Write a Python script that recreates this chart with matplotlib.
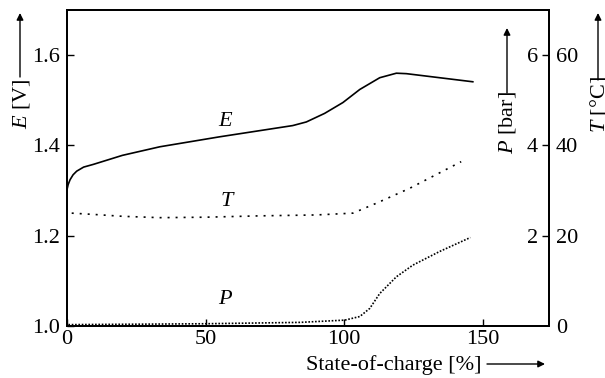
import matplotlib
matplotlib.use("Agg")
import matplotlib.pyplot as plt

plt.rcParams['font.family'] = ['Liberation Serif', 'DejaVu Serif']
plt.rcParams['mathtext.fontset'] = 'custom'
plt.rcParams['mathtext.rm'] = 'Liberation Serif'
plt.rcParams['mathtext.it'] = 'Liberation Serif:italic'

# cell voltage E [V] vs state of charge [%]
soc_E = [0, 0.4, 1.1, 2.2, 3.5, 6, 9.5, 20, 33.5, 55, 81.5, 86.4, 93, 99.6, 105.7, 112.9, 118.9, 122.5, 146.5]
E = [1.302, 1.313, 1.324, 1.335, 1.343, 1.352, 1.358, 1.378, 1.397, 1.419, 1.444, 1.452, 1.471, 1.495, 1.524, 1.550, 1.560, 1.559, 1.541]

# temperature T [degC]
soc_T = [1.7, 10, 20, 33.5, 50, 69.6, 90, 103.2, 111.7, 123.7, 142.3]
T = [25.0, 24.7, 24.3, 24.0, 24.1, 24.4, 24.6, 25.0, 27.2, 30.5, 36.4]

# pressure P [bar]
soc_P = [0.5, 50, 84, 100.3, 105.7, 109.3, 112.9, 118.9, 124.9, 134.5, 145.6]
P = [0.03, 0.05, 0.08, 0.13, 0.21, 0.39, 0.72, 1.09, 1.35, 1.65, 1.96]

E_ticks = [1.0, 1.2, 1.4, 1.6]
P_ticks = [2, 4, 6]
T_ticks = [0, 20, 40, 60]
soc_ticks = [0, 50, 100, 150]

fs = 16
fig = plt.figure(figsize=(6.05, 3.78), dpi=100)
ax = fig.add_axes([67/605, 52/378, 482/605, 316/378])
ax2 = ax.twinx()
ax3 = ax.twinx()

ax.plot(soc_E, E, color='black', lw=1.2)
ax3.plot(soc_T, T, color='black', lw=1.2, linestyle=(0, (1.2, 3.6)))
ax2.plot(soc_P, P, color='black', lw=1.2, linestyle=(0, (1, 1)))

ax.set_xlim(0, 174)
ax.set_ylim(1.0, 1.7)
ax2.set_ylim(0, 7)
ax3.set_ylim(0, 70)

ax.set_xticks(soc_ticks)
ax.set_yticks(E_ticks)
ax.set_yticklabels([f"{v:.1f}" for v in E_ticks])
ax.tick_params(direction='in', length=5, width=1, labelsize=fs, pad=5)
ax.tick_params(axis='x', pad=3)

ax2.set_yticks(P_ticks)
ax2.tick_params(axis='y', direction='in', length=5, width=1, labelsize=fs, pad=-8)
for lab in ax2.get_yticklabels():
    lab.set_horizontalalignment('right')

ax3.set_yticks(T_ticks)
ax3.tick_params(axis='y', length=0, labelsize=fs, pad=5)

for a in (ax, ax2, ax3):
    for s in a.spines.values():
        s.set_linewidth(1.2)

ax.text(57, 1.454, "E", fontsize=fs, style='italic', ha='center', va='center')
ax.text(57.5, 1.276, "T", fontsize=fs, style='italic', ha='center', va='center')
ax.text(57, 1.058, "P", fontsize=fs, style='italic', ha='center', va='center')

# axis labels with arrows, in figure pixels
arrow = dict(arrowstyle='-|>', color='black', lw=1, mutation_scale=10, shrinkA=0, shrinkB=0)
fig.text(22/605, 274/378, r"$E$ [V]", fontsize=fs, rotation=90, ha='center', va='center')
ax.annotate("", xy=(20, 365), xytext=(20, 301), xycoords='figure pixels', arrowprops=arrow)
fig.text(507/605, 255/378, r"$P$ [bar]", fontsize=fs, rotation=90, ha='center', va='center')
ax.annotate("", xy=(507, 350), xytext=(507, 285), xycoords='figure pixels', arrowprops=arrow)
fig.text(599/605, 273/378, r"$T$ [°C]", fontsize=fs, rotation=90, ha='center', va='center')
ax.annotate("", xy=(598, 365), xytext=(598, 298), xycoords='figure pixels', arrowprops=arrow)
fig.text(394/605, 13/378, "State-of-charge [%]", fontsize=fs, ha='center', va='center')
ax.annotate("", xy=(545, 14), xytext=(487, 14), xycoords='figure pixels', arrowprops=arrow)

fig.savefig("out.png", dpi=100)
